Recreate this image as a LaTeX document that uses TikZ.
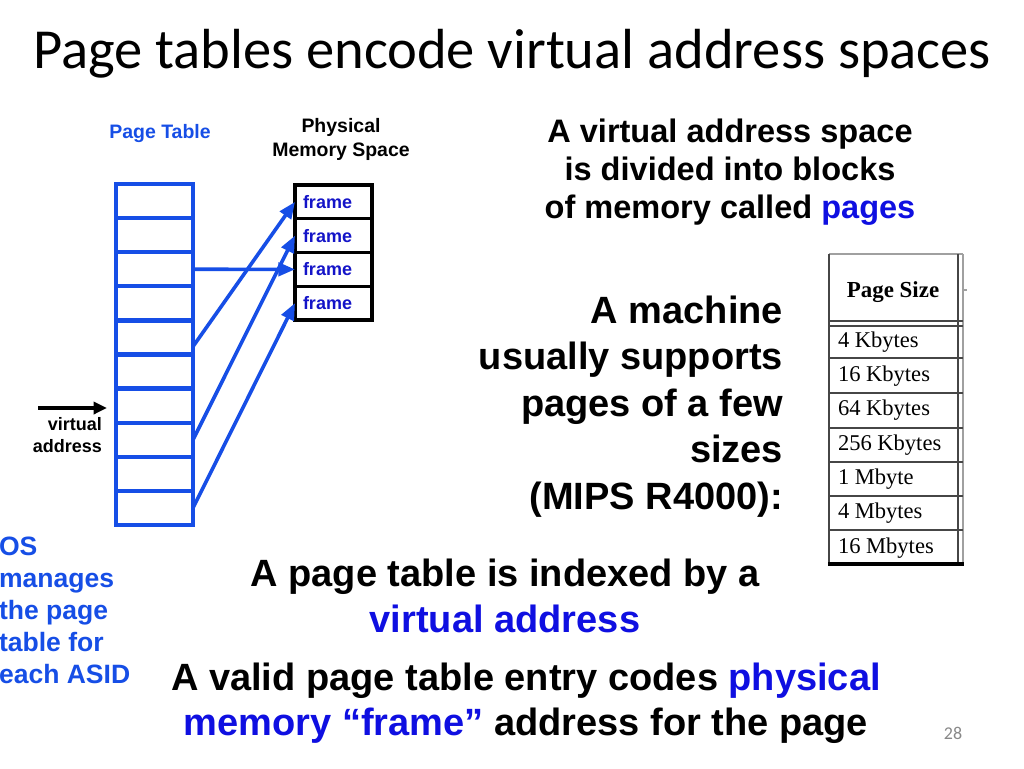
\documentclass[tikz,border=0pt]{standalone}
\usepackage{fontspec}
\setmainfont{Liberation Sans}
\newfontfamily\calfont{Carlito}
\newfontfamily\serfont{Liberation Serif}
\usetikzlibrary{arrows.meta,calc}
\definecolor{dblue}{RGB}{22,78,230}
\definecolor{tblue}{RGB}{15,15,225}
\definecolor{fblue}{RGB}{20,20,200}
\definecolor{tgray}{RGB}{70,70,70}
\definecolor{lgray}{RGB}{160,160,160}
\begin{document}
\begin{tikzpicture}[x=0.75pt,y=-0.75pt,
  txt/.style={inner sep=0pt, outer sep=0pt},
  ptrow/.style={draw=dblue, line width=3.2pt, minimum width=57.75pt, minimum height=25.575pt, inner sep=0pt, outer sep=0pt},
  frm/.style={draw=black, line width=2.4pt, minimum width=57.75pt, minimum height=25.3pt, inner xsep=6pt, inner ysep=0pt, outer sep=0pt, text width=45.75pt, align=left, font=\bfseries\fontsize{13.5}{16}\selectfont, text=fblue},
  link/.style={dblue, line width=2.7pt, -{Triangle[length=12.5pt,width=10pt]}},
  small/.style={txt, font=\bfseries\fontsize{14.6}{17}\selectfont},
  big/.style={txt, font=\bfseries\fontsize{28.5}{34}\selectfont},
  mid/.style={txt, font=\bfseries\fontsize{24.4}{29}\selectfont},
  osf/.style={txt, anchor=base west, text=dblue, font=\bfseries\fontsize{19.9}{24}\selectfont},
  tabtxt/.style={txt, anchor=base west, font=\serfont\fontsize{16.9}{20}\selectfont},
  tline/.style={tgray, line width=1.3pt}
]
\fill[white] (0,0) rectangle (1024,768);
\useasboundingbox (0,0) rectangle (1024,768);

% title
\node[txt, anchor=base west, font=\calfont\fontsize{42.4}{50}\selectfont] (title) at (33,68) {Page tables encode virtual address spaces};

% page table
\foreach \i in {1,...,10} {
  \node[ptrow] (r\i) at (154.5, {184+34.1*(\i-0.5)}) {};
}
\node[small, anchor=base, text=dblue] (ptlabel) at (160,138) {Page Table};

% physical memory
\node[small, anchor=base] (phys1) at (341,132) {Physical};
\node[small, anchor=base] (phys2) at (341,156) {Memory Space};
\foreach \i in {1,...,4} {
  \node[frm] (f\i) at (333.5, {185+33.75*(\i-0.5)}) {frame};
}
\draw[line width=3.2pt] (f1.north west) rectangle (f4.south east);

% mapping arrows
\draw[link] (r3.east) -- (f3.west);
\draw[link] ([yshift=6pt]r5.south east) -- (f1.west);
\draw[link] (r8.east) -- (f2.west);
\draw[link] (r10.east) -- (f4.west);

% virtual address input
\coordinate (vs) at (38,408);
\coordinate (ve) at (107,408);
\draw[line width=3pt, -{Triangle[length=10pt,width=9pt]}] (vs) -- (ve);
\node[txt, anchor=base east, font=\bfseries\fontsize{13.5}{16}\selectfont] (va1) at (102,430) {virtual};
\node[txt, anchor=base east, font=\bfseries\fontsize{13.5}{16}\selectfont] (va2) at (102,452) {address};

% OS text
\node[osf] (os1) at (-1,555) {OS};
\node[osf] (os2) at (-1,587) {manages};
\node[osf] (os3) at (-1,619) {the page};
\node[osf] (os4) at (-1,651) {table for};
\node[osf] (os5) at (-1,683) {each ASID};

% right top text
\node[mid, anchor=base] (vt1) at (730,142) {A virtual address space};
\node[mid, anchor=base] (vt2) at (730,180) {is divided into blocks};
\node[mid, anchor=base] (vt3) at (730,218) {of memory called \textcolor{tblue}{pages}};

% machine text
\node[big, anchor=base east] (m1) at (783,323) {A machine};
\node[big, anchor=base east] (m2) at (783,369.5) {usually supports};
\node[big, anchor=base east] (m3) at (783,416) {pages of a few};
\node[big, anchor=base east] (m4) at (783,462.5) {sizes};
\node[big, anchor=base east] (m5) at (783,509) {(MIPS R4000):};

% bottom text
\node[big, anchor=base] (b1) at (505,586) {A page table is indexed by a};
\node[big, anchor=base, text=tblue] (b2) at (505,632) {virtual address};
\node[big, anchor=base] (b3) at (526,690) {A valid page table entry codes \textcolor{tblue}{physical}};
\node[big, anchor=base] (b4) at (526,735) {\textcolor{tblue}{memory “frame”} address for the page};

% page number
\node[txt, anchor=base, text=lgray!85!black, font=\calfont\fontsize{13.5}{16}\selectfont] (pnum) at (953,739) {28};

% page size table
\draw[lgray, line width=1.2pt] (829,254) -- (963,254);
\draw[tgray, line width=1.6pt] (829,254) -- (829,565);
\draw[tgray, line width=1.4pt] (958,254) -- (958,565);
\draw[lgray, line width=1.1pt] (963,254) -- (963,565);
\draw[lgray, line width=1pt] (963,290) -- (967,290);
\draw[tline] (829,321) -- (963,321);
\draw[tline] (829,326) -- (963,326);
\foreach \y in {358,393,428,462,496,530} {
  \draw[tline] (829,\y) -- (963,\y);
}
\draw[black, line width=2.8pt] (828,564) -- (964,564);
\node[txt, anchor=base, font=\serfont\bfseries\fontsize{17.2}{20}\selectfont] (hdr) at (893,297) {Page Size};
\node[tabtxt] (s1) at (838,347) {4 Kbytes};
\node[tabtxt] (s2) at (838,381.3) {16 Kbytes};
\node[tabtxt] (s3) at (838,415.7) {64 Kbytes};
\node[tabtxt] (s4) at (838,450) {256 Kbytes};
\node[tabtxt] (s5) at (838,484.3) {1 Mbyte};
\node[tabtxt] (s6) at (838,518.7) {4 Mbytes};
\node[tabtxt] (s7) at (838,553) {16 Mbytes};
\end{tikzpicture}
\end{document}
